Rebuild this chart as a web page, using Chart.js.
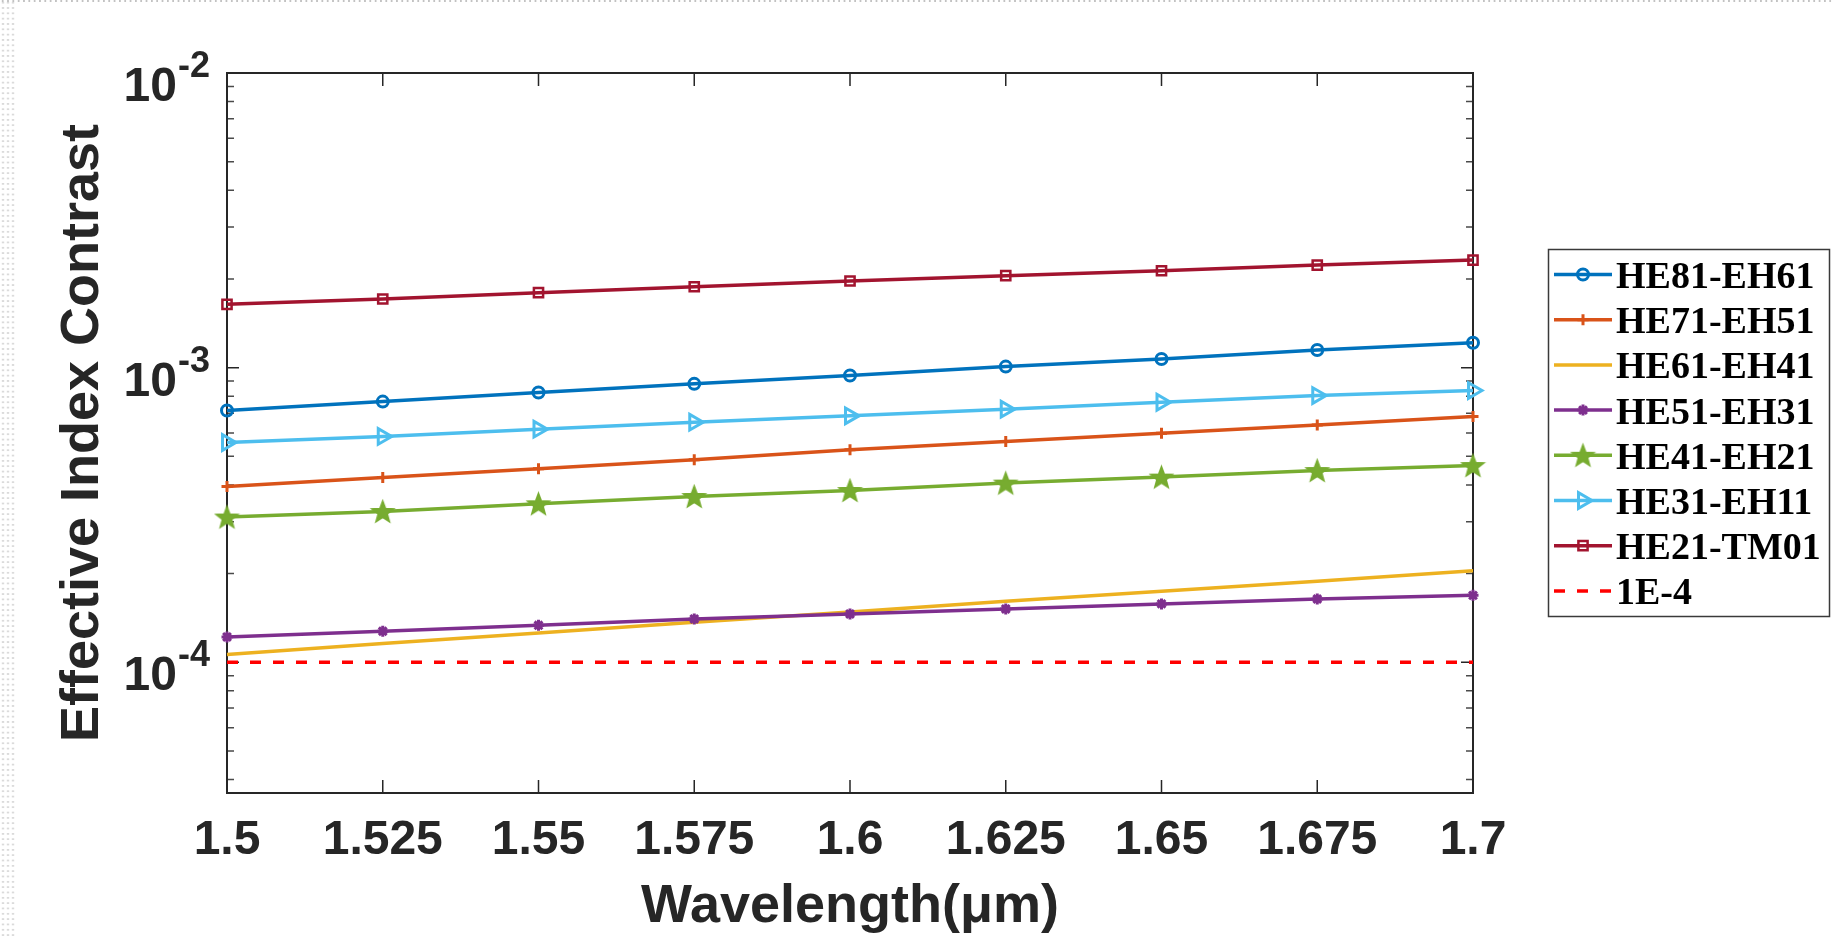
<!DOCTYPE html>
<html>
<head>
<meta charset="utf-8">
<title>Effective Index Contrast vs Wavelength</title>
<script src="https://cdn.jsdelivr.net/npm/chart.js@4.4.1/dist/chart.umd.min.js"></script>
<style>
  html, body { margin: 0; padding: 0; background: #fff; overflow: hidden; }
  #wrap { position: relative; width: 1832px; height: 938px; }
  #chart { display: block; }
  .edge-left {
    position: absolute; left: 0; top: 0; width: 16px; height: 938px;
    background-image: radial-gradient(circle at center, #c2c2c2 0, #c2c2c2 0.7px, rgba(255,255,255,0) 1.2px);
    background-size: 5px 5.33px; background-position: 0.5px 0;
  }
  .edge-top {
    position: absolute; left: 0; top: 0; width: 1832px; height: 2px;
    background-image: radial-gradient(circle at center, #c2c2c2 0, #c2c2c2 0.7px, rgba(255,255,255,0) 1.2px);
    background-size: 5.33px 2px;
  }
</style>
</head>
<body>
<div id="wrap">
  <canvas id="chart" width="1832" height="938"></canvas>
  <div class="edge-left"></div>
  <div class="edge-top"></div>
</div>
<script>
// Wavelength samples (µm)
const wavelength = [1.5, 1.525, 1.55, 1.575, 1.6, 1.625, 1.65, 1.675, 1.7];
const xTickLabels = ['1.5', '1.525', '1.55', '1.575', '1.6', '1.625', '1.65', '1.675', '1.7'];

// Effective index contrast between neighbouring mode groups
const he81_eh61 = [7.15e-4, 7.67e-4, 8.23e-4, 8.81e-4, 9.40e-4, 1.008e-3, 1.070e-3, 1.148e-3, 1.215e-3];
const he71_eh51 = [3.95e-4, 4.24e-4, 4.54e-4, 4.87e-4, 5.26e-4, 5.61e-4, 5.99e-4, 6.39e-4, 6.82e-4];
const he61_eh41 = [1.062e-4, 1.157e-4, 1.258e-4, 1.367e-4, 1.482e-4, 1.610e-4, 1.741e-4, 1.882e-4, 2.046e-4];
const he51_eh31 = [1.219e-4, 1.274e-4, 1.335e-4, 1.403e-4, 1.459e-4, 1.517e-4, 1.578e-4, 1.640e-4, 1.687e-4];
const he41_eh21 = [3.111e-4, 3.250e-4, 3.451e-4, 3.653e-4, 3.830e-4, 4.056e-4, 4.252e-4, 4.475e-4, 4.654e-4];
const he31_eh11 = [5.57e-4, 5.84e-4, 6.18e-4, 6.53e-4, 6.86e-4, 7.23e-4, 7.63e-4, 8.04e-4, 8.36e-4];
const he21_tm01 = [1.640e-3, 1.710e-3, 1.796e-3, 1.882e-3, 1.968e-3, 2.051e-3, 2.132e-3, 2.229e-3, 2.318e-3];
const threshold = [1e-4, 1e-4, 1e-4, 1e-4, 1e-4, 1e-4, 1e-4, 1e-4, 1e-4];

const seriesNames = ['HE81-EH61', 'HE71-EH51', 'HE61-EH41', 'HE51-EH31', 'HE41-EH21', 'HE31-EH11', 'HE21-TM01', '1E-4'];
const seriesValues = [he81_eh61, he71_eh51, he61_eh41, he51_eh31, he41_eh21, he31_eh11, he21_tm01, threshold];

// Log-axis decades and their exponent labels
const yDecades = [1e-4, 1e-3, 1e-2];
const yDecadeExponents = ['-4', '-3', '-2'];
const yMin = 3.6e-5;
const yMax = 1e-2;

const AXIS_FONT = '"Liberation Sans", Arial, Helvetica, sans-serif';
const LEGEND_FONT = '"Liberation Serif", "Times New Roman", serif';
const AXIS_COLOR = '#262626';

// Filled five-pointed star used as a marker
function makePentagram(color, outer) {
  const size = Math.ceil(outer * 2 + 4);
  const c = document.createElement('canvas');
  c.width = size; c.height = size;
  const g = c.getContext('2d');
  const cx = size / 2, cy = size / 2 + outer * 0.08;
  const inner = outer * 0.42;
  g.beginPath();
  for (let k = 0; k < 10; k++) {
    const r = k % 2 === 0 ? outer : inner;
    const ang = -Math.PI / 2 + k * Math.PI / 5;
    const px = cx + r * Math.cos(ang), py = cy + r * Math.sin(ang);
    if (k === 0) g.moveTo(px, py); else g.lineTo(px, py);
  }
  g.closePath();
  g.fillStyle = color; g.fill();
  g.lineWidth = 1.5; g.strokeStyle = color; g.stroke();
  return c;
}

const starGreen = makePentagram('#77AC30', 11.5);

// Line and marker styling per series
const seriesStyles = [
  { color: '#0072BD', marker: 'circle',   radius: 5.5, markerWidth: 3,   rotation: 0 },
  { color: '#D95319', marker: 'cross',    radius: 5.5, markerWidth: 3,   rotation: 0 },
  { color: '#EDB120', marker: false,      radius: 0,   markerWidth: 0,   rotation: 0 },
  { color: '#7E2F8E', marker: 'star',     radius: 5.5, markerWidth: 3,   rotation: 0 },
  { color: '#77AC30', marker: starGreen,  radius: 10,  markerWidth: 0,   rotation: 0 },
  { color: '#4DBEEE', marker: 'triangle', radius: 9,   markerWidth: 3,   rotation: 90 },
  { color: '#A2142F', marker: 'rect',     radius: 6.5, markerWidth: 2.5, rotation: 0 },
  { color: '#FF0000', marker: false,      radius: 0,   markerWidth: 0,   rotation: 0, dash: [11, 12] }
];

const datasets = seriesNames.map((name, i) => {
  const s = seriesStyles[i];
  return {
    label: name,
    data: wavelength.map((w, j) => ({ x: w, y: seriesValues[i][j] })),
    borderColor: s.color,
    backgroundColor: s.color,
    borderWidth: 3.5,
    borderDash: s.dash || [],
    pointStyle: s.marker,
    pointRadius: s.radius,
    pointHoverRadius: s.radius,
    pointBorderWidth: s.markerWidth,
    pointBorderColor: s.color,
    pointBackgroundColor: 'rgba(0,0,0,0)',
    pointRotation: s.rotation,
    tension: 0,
    clip: false,
    order: seriesNames.length - i
  };
});

// Draws a marker glyph for the legend sample
function drawLegendMarker(ctx, s, x, y) {
  if (!s.marker) return;
  if (s.marker instanceof HTMLCanvasElement) {
    ctx.drawImage(s.marker, x - s.marker.width / 2, y - s.marker.height / 2);
    return;
  }
  ctx.save();
  ctx.strokeStyle = s.color;
  ctx.lineWidth = s.markerWidth;
  ctx.beginPath();
  const r = s.radius;
  if (s.marker === 'circle') {
    ctx.arc(x, y, r, 0, Math.PI * 2);
  } else if (s.marker === 'cross') {
    ctx.moveTo(x - r, y); ctx.lineTo(x + r, y);
    ctx.moveTo(x, y - r); ctx.lineTo(x, y + r);
  } else if (s.marker === 'star') {
    const d = r * Math.SQRT1_2;
    ctx.moveTo(x - r, y); ctx.lineTo(x + r, y);
    ctx.moveTo(x, y - r); ctx.lineTo(x, y + r);
    ctx.moveTo(x - d, y - d); ctx.lineTo(x + d, y + d);
    ctx.moveTo(x - d, y + d); ctx.lineTo(x + d, y - d);
  } else if (s.marker === 'triangle') {
    // pointing right
    ctx.moveTo(x + r, y);
    ctx.lineTo(x - r / 2, y - r * Math.sqrt(3) / 2);
    ctx.lineTo(x - r / 2, y + r * Math.sqrt(3) / 2);
    ctx.closePath();
  } else if (s.marker === 'rect') {
    const h = r * Math.SQRT1_2;
    ctx.rect(x - h, y - h, 2 * h, 2 * h);
  }
  ctx.stroke();
  ctx.restore();
}

const axisFrame = {
  id: 'axisFrame',
  beforeDatasetsDraw(chart) {
    const { ctx, chartArea: a, scales: { x, y } } = chart;
    ctx.save();
    ctx.strokeStyle = AXIS_COLOR;
    ctx.lineWidth = 1.5;
    ctx.beginPath();
    // x ticks, inward on bottom and top edges
    wavelength.forEach(v => {
      const px = x.getPixelForValue(v);
      ctx.moveTo(px, a.bottom); ctx.lineTo(px, a.bottom - 13);
      ctx.moveTo(px, a.top); ctx.lineTo(px, a.top + 13);
    });
    // y major ticks
    yDecades.forEach(v => {
      const py = y.getPixelForValue(v);
      ctx.moveTo(a.left, py); ctx.lineTo(a.left + 12, py);
      ctx.moveTo(a.right, py); ctx.lineTo(a.right - 12, py);
    });
    ctx.stroke();
    // y minor ticks
    ctx.strokeStyle = '#4a4a4a';
    ctx.beginPath();
    for (let e = -5; e <= -3; e++) {
      for (let m = 2; m <= 9; m++) {
        const v = m * Math.pow(10, e);
        if (v < yMin || v > yMax) continue;
        const py = y.getPixelForValue(v);
        ctx.moveTo(a.left, py); ctx.lineTo(a.left + 7, py);
        ctx.moveTo(a.right, py); ctx.lineTo(a.right - 7, py);
      }
    }
    ctx.stroke();
    // axes box
    ctx.strokeStyle = AXIS_COLOR;
    ctx.lineWidth = 2;
    ctx.strokeRect(a.left, a.top, a.right - a.left, a.bottom - a.top);
    ctx.restore();
  },
  afterDraw(chart) {
    const { ctx, scales: { y } } = chart;
    ctx.save();
    // y tick labels as powers of ten
    ctx.fillStyle = AXIS_COLOR;
    ctx.textBaseline = 'alphabetic';
    ctx.textAlign = 'right';
    yDecades.forEach((v, i) => {
      const py = y.getPixelForValue(v);
      ctx.font = 'bold 36px ' + AXIS_FONT;
      const expRight = 210;
      ctx.fillText(yDecadeExponents[i], expRight, py + 4);
      const ew = ctx.measureText(yDecadeExponents[i]).width;
      ctx.font = 'bold 48px ' + AXIS_FONT;
      ctx.fillText('10', expRight - ew - 1, py + 28);
    });

    // legend
    const bx = 1548.5, by = 249.5, bw = 281, bh = 367;
    ctx.fillStyle = '#ffffff';
    ctx.fillRect(bx, by, bw, bh);
    ctx.strokeStyle = '#3a3a3a';
    ctx.lineWidth = 1.5;
    ctx.strokeRect(bx, by, bw, bh);
    ctx.textAlign = 'left';
    ctx.font = 'bold 38px ' + LEGEND_FONT;
    seriesNames.forEach((name, i) => {
      const s = seriesStyles[i];
      const ly = 274.5 + i * 45.2;
      ctx.save();
      ctx.strokeStyle = s.color;
      ctx.lineWidth = 3.5;
      ctx.setLineDash(s.dash || []);
      ctx.beginPath();
      ctx.moveTo(1554, ly); ctx.lineTo(1612, ly);
      ctx.stroke();
      ctx.restore();
      drawLegendMarker(ctx, s, 1583, ly);
      ctx.fillStyle = '#000000';
      ctx.fillText(name, 1616, 288 + i * 45.2);
    });
    ctx.restore();
  }
};

new Chart(document.getElementById('chart'), {
  type: 'line',
  data: { datasets },
  plugins: [axisFrame],
  options: {
    responsive: false,
    devicePixelRatio: 1,
    animation: false,
    events: [],
    layout: { padding: { top: 73, right: 359, left: 0, bottom: 0 } },
    plugins: { legend: { display: false }, tooltip: { enabled: false } },
    scales: {
      x: {
        type: 'linear',
        min: 1.5,
        max: 1.7,
        bounds: 'data',
        afterBuildTicks(scale) { scale.ticks = wavelength.map(v => ({ value: v })); },
        afterFit(scale) { scale.height = 145; },
        grid: { display: false, drawTicks: false },
        border: { display: false },
        ticks: {
          autoSkip: false,
          maxRotation: 0,
          padding: 19,
          color: AXIS_COLOR,
          font: { family: AXIS_FONT, size: 48, weight: 'bold' },
          callback: (v, i) => xTickLabels[i]
        },
        title: {
          display: true,
          text: 'Wavelength(μm)',
          color: AXIS_COLOR,
          font: { family: AXIS_FONT, size: 54, weight: 'bold', lineHeight: 1 },
          padding: { top: 0, bottom: 4 }
        }
      },
      y: {
        type: 'logarithmic',
        min: yMin,
        max: yMax,
        bounds: 'data',
        afterBuildTicks(scale) { scale.ticks = yDecades.map(v => ({ value: v, major: true })); },
        afterFit(scale) { scale.width = 227; },
        grid: { display: false, drawTicks: false },
        border: { display: false },
        ticks: { display: false },
        title: {
          display: true,
          text: 'Effective Index Contrast',
          color: AXIS_COLOR,
          font: { family: AXIS_FONT, size: 54, weight: 'bold', lineHeight: 1 },
          padding: { top: 56, bottom: 0 }
        }
      }
    }
  }
});
</script>
</body>
</html>
